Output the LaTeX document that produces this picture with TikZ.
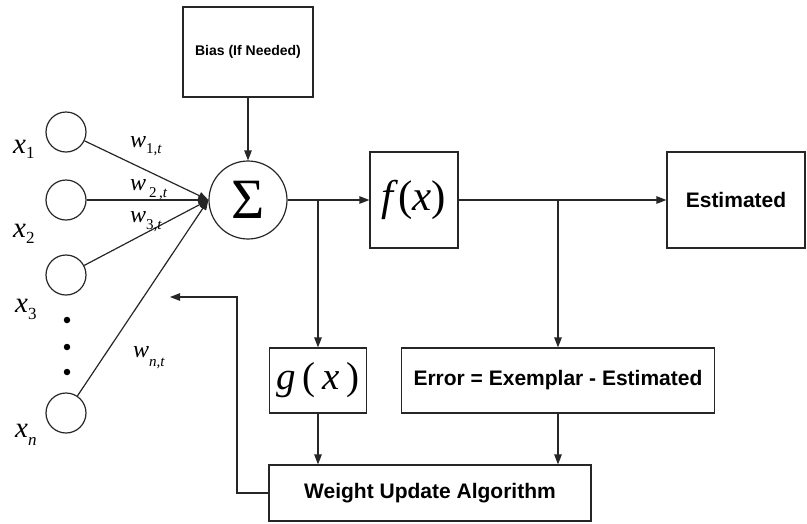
\documentclass[tikz,border=0pt]{standalone}
\usepackage{fontspec}
\setmainfont{Liberation Serif}
\newfontfamily\labelsans{Liberation Sans}
\usetikzlibrary{arrows.meta}

% input label x_i and weight label w_{i,t}
\newcommand\xlab[2]{{\fontsize{29}{29}\selectfont\itshape x}\raisebox{#2}{\fontsize{17}{17}\selectfont #1}}
\newcommand\wlab[2]{{\fontsize{24}{24}\selectfont\itshape w}\raisebox{#2}{\fontsize{15}{15}\selectfont #1}}

\begin{document}
\begin{tikzpicture}[x=1pt,y=-1pt,
  line/.style={draw=black!85, line width=1.2pt},
  arr/.style={line, -{Triangle[length=10pt,width=7.5pt]}},
  inode/.style={circle, draw=black!85, line width=1.2pt, minimum size=40pt, inner sep=0pt},
  box/.style={rectangle, draw=black!85, line width=1.2pt, inner sep=0pt},
  btext/.style={font=\labelsans\bfseries\fontsize{21}{21}\selectfont},
  lab/.style={anchor=base west, inner sep=0pt},
  dot/.style={circle, fill=black, inner sep=0pt, minimum size=6.5pt},
]
\useasboundingbox (0,0) rectangle (807,523);

% input neurons
\node[inode] (c1) at (66,132) {};
\node[inode] (c2) at (66,200) {};
\node[inode] (c3) at (66,275) {};
\node[inode] (cn) at (66,413) {};
\node[dot] (d1) at (67,320) {};
\node[dot] (d2) at (67,347) {};
\node[dot] (d3) at (67,372) {};

\node[lab] (lx1) at (13,153) {\xlab{1}{-5pt}};
\node[lab] (lx2) at (13,237) {\xlab{2}{-6pt}};
\node[lab] (lx3) at (15,312) {\xlab{3}{-7pt}};
\node[lab] (lxn) at (15,437) {\xlab{\itshape n}{-8pt}};

% summing junction and bias
\node[inode, minimum size=78pt] (sum) at (248,200) {\fontsize{57}{57}\selectfont Σ};
\node[box, minimum width=130pt, minimum height=90pt,
      font=\labelsans\bfseries\fontsize{14}{14}\selectfont] (bias) at (248,52) {Bias (If Needed)};

% weighted inputs
\draw[arr] (c1) -- (sum.west);
\draw[arr] (c2) -- (sum.west);
\draw[arr] (c3) -- (sum.west);
\draw[arr] (cn) -- (sum.west);
\draw[arr] (bias) -- (sum);

\node[lab] (w1) at (130,147) {\wlab{1,\itshape t}{-6pt}};
\node[lab] (w2) at (130,190) {\wlab{\hspace{3pt}2\,,\itshape t}{-7pt}};
\node[lab] (w3) at (130,222) {\wlab{3,\itshape t}{-7pt}};
\node[lab] (wn) at (133,357) {\wlab{\itshape n,t}{-9pt}};

% activation and output
\node[box, minimum width=88pt, minimum height=96pt] (fx) at (414,200)
  {\fontsize{43}{43}\selectfont\itshape f\/\upshape(\itshape x\/\upshape)};
\node[box, minimum width=138pt, minimum height=96pt, btext] (est) at (736,200) {Estimated};
\node[box, minimum width=97pt, minimum height=65pt] (g) at (318,380.5)
  {\fontsize{39}{39}\selectfont\itshape g\/\upshape\,(\,\itshape x\/\upshape\,)};
\node[box, minimum width=313pt, minimum height=65pt, btext] (err) at (558,380.5) {Error = Exemplar - Estimated};
\node[box, minimum width=322pt, minimum height=56pt, btext] (wu) at (430,493) {Weight Update Algorithm};

\coordinate (b1) at (318,200);
\coordinate (b2) at (558,200);
\draw[arr] (sum) -- (fx);
\draw[arr] (b1) -- (g);
\draw[arr] (fx) -- (est);
\draw[arr] (b2) -- (err);
\draw[arr] (g) -- (g |- wu.north);
\draw[arr] (err) -- (err |- wu.north);

% feedback to the weights
\coordinate (fbcorner) at (237,297);
\coordinate (fbtip) at (170,297);
\draw[arr] (wu.west) -| (fbcorner) -- (fbtip);
\end{tikzpicture}
\end{document}
